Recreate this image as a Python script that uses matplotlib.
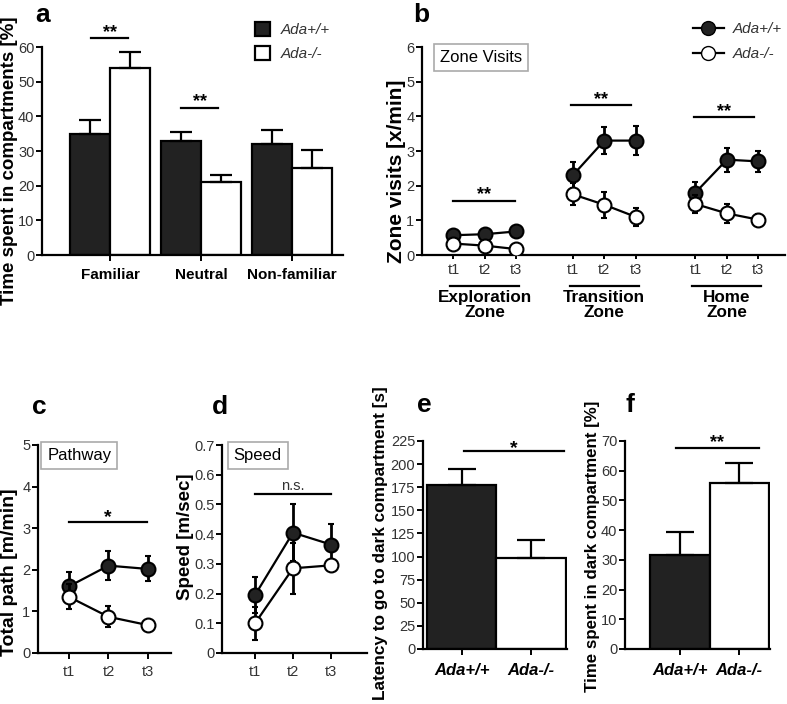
import matplotlib.pyplot as plt
from matplotlib.lines import Line2D

plt.rcParams['font.family'] = ['Liberation Sans', 'DejaVu Sans']
plt.rcParams['axes.linewidth'] = 1.6

W, H = 787, 704
DARK = '#222222'
TICKC = '#333333'

# ---- data ----
groups_a = ['Familiar', 'Neutral', 'Non-familiar']
a_wt = [35, 33, 32]
a_wt_err = [4, 2.6, 4]
a_ko = [54, 21, 25]
a_ko_err = [4.5, 2, 5.3]

zones = ['Exploration\nZone', 'Transition\nZone', 'Home\nZone']
times = ['t1', 't2', 't3']
b_wt = [[0.57, 0.6, 0.68], [2.3, 3.3, 3.3], [1.8, 2.75, 2.7]]
b_wt_err = [[0.08, 0.08, 0.08], [0.38, 0.4, 0.42], [0.32, 0.35, 0.3]]
b_ko = [[0.33, 0.27, 0.17], [1.75, 1.45, 1.1], [1.47, 1.2, 1.02]]
b_ko_err = [[0.06, 0.06, 0.06], [0.32, 0.38, 0.25], [0.25, 0.28, 0.15]]

c_wt = [1.6, 2.1, 2.02]
c_wt_err = [0.35, 0.35, 0.3]
c_ko = [1.35, 0.87, 0.67]
c_ko_err = [0.3, 0.25, 0.05]

d_wt = [0.195, 0.405, 0.365]
d_wt_err = [0.06, 0.095, 0.068]
d_ko = [0.1, 0.285, 0.295]
d_ko_err = [0.055, 0.085, 0.01]

genotypes = ['Ada+/+', 'Ada-/-']
e_vals = [177, 98]
e_err = [18, 20]
f_vals = [31.5, 56]
f_err = [8, 6.6]

fig = plt.figure(figsize=(W / 100, H / 100), dpi=100)


def add_ax(left, top, right, bottom):
    return fig.add_axes([left / W, 1 - bottom / H, (right - left) / W, (bottom - top) / H])


def style(ax):
    for s in ['top', 'right']:
        ax.spines[s].set_visible(False)
    ax.tick_params(direction='out', length=4, width=1.4, labelsize=10.5,
                   labelcolor=TICKC, pad=1.5)


def ylab(x, y, s, size):
    # y labels placed in figure pixels, the source stretches them a lot
    fig.text(x / W, 1 - y / H, s, rotation=90, ha='center', va='center',
             fontsize=size, fontweight='bold')


def sig(ax, x0, x1, y, txt, size=13, dy=0.0):
    ax.plot([x0, x1], [y, y], color='black', lw=1.6, clip_on=False)
    ax.text((x0 + x1) / 2, y + dy, txt, ha='center', va='bottom',
            fontsize=size, fontweight='bold' if txt != 'n.s.' else 'normal',
            color=TICKC if txt == 'n.s.' else 'black', clip_on=False)


def panel_letter(x, y, s):
    fig.text(x / W, 1 - y / H, s, fontsize=19, fontweight='bold', ha='left', va='center')


def boxlabel(ax, x, y, s):
    ax.text(x, y, s, transform=ax.transAxes, fontsize=12, ha='left', va='top',
            bbox=dict(boxstyle='square,pad=0.35', fc='white', ec='#aaaaaa', lw=1.2))


def errline(ax, xs, ys, err, fill):
    ax.errorbar(xs, ys, yerr=err, color='black', lw=1.6, marker='o', ms=10,
                mfc=fill, mec='black', mew=1.5, capsize=2, elinewidth=2,
                zorder=3 if fill != 'white' else 4)


# ---- panel a ----
ax = add_ax(42, 47, 343, 255)
style(ax)
xa = range(len(groups_a))
w = 0.44
ax.bar([x - w / 2 for x in xa], a_wt, w, color=DARK, edgecolor='black', lw=1.6,
       yerr=[[0] * 3, a_wt_err], capsize=8, error_kw=dict(lw=1.6, capthick=1.6), label='Ada+/+')
ax.bar([x + w / 2 for x in xa], a_ko, w, color='white', edgecolor='black', lw=1.6,
       yerr=[[0] * 3, a_ko_err], capsize=8, error_kw=dict(lw=1.6, capthick=1.6), label='Ada-/-')
ax.set_xlim(-0.747, 2.56)
ax.set_ylim(0, 60)
ax.set_yticks(range(0, 61, 10))
ax.set_xticks(list(xa))
ax.set_xticklabels(groups_a, fontweight='bold', fontsize=11, color='black')
ax.tick_params(axis='x', pad=5)
ylab(10, 161, 'Time spent in compartments [%]', 13.5)
sig(ax, -0.21, 0.2, 62.6, '**', dy=-0.8)
sig(ax, 0.78, 1.19, 42.5, '**', dy=-0.8)
h, l = ax.get_legend_handles_labels()
leg = ax.legend(h, l, loc='upper left', bbox_to_anchor=(255 / W, 1 - 22 / H),
                bbox_transform=fig.transFigure, frameon=False, fontsize=11,
                borderpad=0, borderaxespad=0,
                handlelength=1.0, handleheight=1.0, labelspacing=0.6, handletextpad=0.7)
for t in leg.get_texts():
    t.set_fontstyle('italic')
    t.set_color(TICKC)
panel_letter(35, 15, 'a')

# ---- panel b ----
ax = add_ax(422, 47, 785, 255)
style(ax)
offsets = [0, 3.8, 7.7]
xt = []
for g, off in enumerate(offsets):
    xs = [off + i for i in range(3)]
    xt += xs
    errline(ax, xs, b_wt[g], b_wt_err[g], DARK)
    errline(ax, xs, b_ko[g], b_ko_err[g], 'white')
    ax.plot([xs[0] - 0.1, xs[2] + 0.1], [-0.89, -0.89], color='black', lw=1.6, clip_on=False)
    ax.text(xs[1], -1.0, zones[g], ha='center', va='top', fontsize=12.3, fontweight='bold',
            linespacing=1.0)
ax.set_xlim(-1.0, 10.55)
ax.set_ylim(0, 6)
ax.set_xticks(xt)
ax.set_xticklabels(times * 3)
ax.tick_params(axis='x', length=3, pad=3)
ylab(396, 171, 'Zone visits [x/min]', 15)
sig(ax, 0, 1.95, 1.57, '**', dy=-0.08)
sig(ax, 3.75, 5.65, 4.33, '**', dy=-0.08)
sig(ax, 7.65, 9.55, 3.97, '**', dy=-0.08)
boxlabel(ax, 0.05, 0.985, 'Zone Visits')
hb = [Line2D([], [], color='black', lw=1.6, marker='o', ms=10, mfc=DARK, mec='black'),
      Line2D([], [], color='black', lw=1.6, marker='o', ms=10, mfc='white', mec='black')]
leg = ax.legend(hb, genotypes, loc='upper left', bbox_to_anchor=(693 / W, 1 - 22 / H),
                bbox_transform=fig.transFigure, frameon=False, fontsize=11,
                borderpad=0, borderaxespad=0,
                handlelength=2.0, labelspacing=0.75, handletextpad=0.6)
for t in leg.get_texts():
    t.set_fontstyle('italic')
    t.set_color(TICKC)
panel_letter(413, 15, 'b')

# ---- panel c ----
ax = add_ax(38, 445, 171, 653)
style(ax)
xc = [1, 2, 3]
errline(ax, xc, c_wt, c_wt_err, DARK)
errline(ax, xc, c_ko, c_ko_err, 'white')
ax.set_xlim(0.22, 3.58)
ax.set_ylim(0, 5)
ax.set_xticks(xc)
ax.set_xticklabels(times)
ax.tick_params(axis='x', pad=5)
ylab(10, 572, 'Total path [m/min]', 14)
sig(ax, 1, 2.98, 3.16, '*', size=14, dy=-0.1)
boxlabel(ax, 0.07, 0.985, 'Pathway')
panel_letter(32, 407, 'c')

# ---- panel d ----
ax = add_ax(222, 445, 367, 653)
style(ax)
errline(ax, xc, d_wt, d_wt_err, DARK)
errline(ax, xc, d_ko, d_ko_err, 'white')
ax.set_xlim(0.13, 3.95)
ax.set_ylim(0, 0.7)
ax.set_yticks([0, 0.1, 0.2, 0.3, 0.4, 0.5, 0.6, 0.7])
ax.set_yticklabels(['0', '0.1', '0.2', '0.3', '0.4', '0.5', '0.6', '0.7'])
ax.set_xticks(xc)
ax.set_xticklabels(times)
ax.tick_params(axis='x', pad=5)
ylab(186, 537, 'Speed [m/sec]', 13.5)
sig(ax, 1, 3.0, 0.534, 'n.s.', size=10.5, dy=0.004)
boxlabel(ax, 0.08, 0.985, 'Speed')
panel_letter(212, 407, 'd')

# ---- panel e ----
ax = add_ax(423, 441, 567, 649)
style(ax)
xe = [0, 1]
ax.bar(xe, e_vals, 1.0, color=[DARK, 'white'], edgecolor='black', lw=1.6,
       yerr=[[0, 0], e_err], capsize=10, error_kw=dict(lw=1.6, capthick=1.6))
ax.set_xlim(-0.56, 1.52)
ax.set_ylim(0, 225)
ax.set_yticks(range(0, 226, 25))
ax.set_xticks(xe)
ax.set_xticklabels(genotypes, fontstyle='italic', fontweight='bold', fontsize=12, color='black')
ax.tick_params(axis='x', pad=6)
ylab(380, 543, 'Latency to go to dark compartment [s]', 12.4)
sig(ax, 0.03, 1.48, 214, '*', size=14, dy=-6)
panel_letter(417, 405, 'e')

# ---- panel f ----
ax = add_ax(625, 441, 770, 649)
style(ax)
ax.bar(xe, f_vals, 1.0, color=[DARK, 'white'], edgecolor='black', lw=1.6,
       yerr=[[0, 0], f_err], capsize=10, error_kw=dict(lw=1.6, capthick=1.6))
ax.set_xlim(-0.93, 1.52)
ax.set_ylim(0, 70)
ax.set_yticks(range(0, 71, 10))
ax.set_xticks(xe)
ax.set_xticklabels(genotypes, fontstyle='italic', fontweight='bold', fontsize=12, color='black')
ax.tick_params(axis='x', pad=6)
ylab(592, 546, 'Time spent in dark compartment [%]', 12.2)
sig(ax, -0.07, 1.33, 67.8, '**', size=13, dy=-1.2)
panel_letter(625, 405, 'f')

fig.savefig('out.png', dpi=100)
